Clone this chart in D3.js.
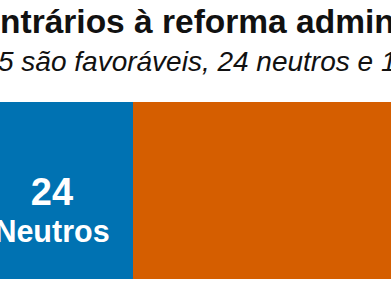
<!DOCTYPE html>
<html>
<head>
<meta charset="utf-8">
<script src="https://cdn.jsdelivr.net/npm/d3@7"></script>
<style>
  html, body { margin: 0; padding: 0; background: #fff; }
  svg { display: block; font-family: "Liberation Sans", Arial, sans-serif; }
</style>
</head>
<body>
<div id="chart"></div>
<script>
// Data
const categories = ['Favoráveis', 'Neutros', 'Contrários'];
const values = [35, 24, 125];
const colors = ['#009E73', '#0072B2', '#D55E00'];
const title = 'Deputados contrários à reforma administrativa';
const subtitle = 'Dos 184 deputados, 35 são favoráveis, 24 neutros e 125 contrários';

const width = 391;
const height = 300;

const svg = d3.select('#chart')
  .append('svg')
  .attr('width', width)
  .attr('height', height);

// the view is a crop of a wider chart, so the scale starts off-screen
const unit = 6.75;
const total = d3.sum(values);
const start = -29 - values[0] * unit;
const x = d3.scaleLinear().domain([0, total]).range([start, start + total * unit]);
const y = d3.scaleBand().domain(['votos']).range([102, 279]);

// stacked segments
let acc = 0;
const segs = values.map((v, i) => {
  const s = { name: categories[i], value: v, x0: acc, x1: acc + v, color: colors[i] };
  acc += v;
  return s;
});

svg.selectAll('rect.seg')
  .data(segs)
  .join('rect')
  .attr('class', 'seg')
  .attr('x', (d) => x(d.x0))
  .attr('y', y('votos'))
  .attr('width', (d) => x(d.x1) - x(d.x0))
  .attr('height', y.bandwidth())
  .attr('fill', (d) => d.color);

// labels inside segments
const labels = svg.selectAll('g.lbl')
  .data(segs)
  .join('g')
  .attr('class', 'lbl')
  .attr('transform', (d) => `translate(${(x(d.x0) + x(d.x1)) / 2},0)`);

labels.append('text')
  .attr('y', 205)
  .attr('text-anchor', 'middle')
  .attr('font-size', 38)
  .attr('font-weight', 'bold')
  .attr('fill', '#fff')
  .text((d) => d.value);

labels.append('text')
  .attr('y', 242)
  .attr('text-anchor', 'middle')
  .attr('font-size', 30.5)
  .attr('font-weight', 'bold')
  .attr('fill', '#fff')
  .text((d) => d.name);

// place a text so that a given substring starts at targetX
const placeAt = (sel, key, targetX) => {
  const idx = sel.text().indexOf(key);
  const pos = sel.node().getStartPositionOfChar(idx).x;
  sel.attr('x', targetX - pos);
};

const t = svg.append('text')
  .attr('x', 0)
  .attr('y', 33)
  .attr('font-size', 33.5)
  .attr('font-weight', 'bold')
  .attr('fill', '#111')
  .text(title);
placeAt(t, 'ntrários', 0);

const st = svg.append('text')
  .attr('x', 0)
  .attr('y', 71)
  .attr('font-size', 28)
  .attr('font-style', 'italic')
  .attr('fill', '#111')
  .text(subtitle);
placeAt(st, '5 são', -2);
</script>
</body>
</html>
